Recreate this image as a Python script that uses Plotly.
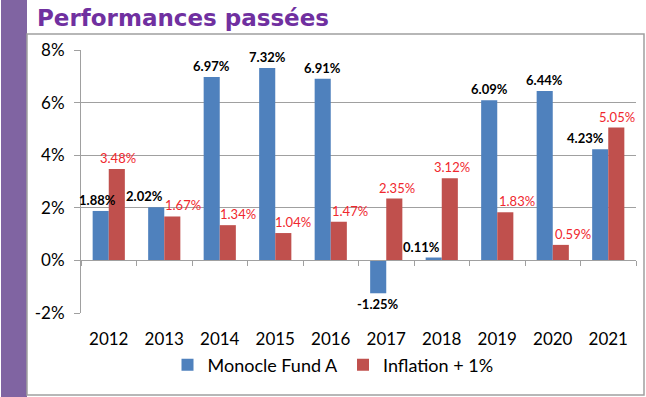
import plotly.graph_objects as go

years = ["2012", "2013", "2014", "2015", "2016", "2017", "2018", "2019", "2020", "2021"]
fund = [1.88, 2.02, 6.97, 7.32, 6.91, -1.25, 0.11, 6.09, 6.44, 4.23]
inflation = [3.48, 1.67, 1.34, 1.04, 1.47, 2.35, 3.12, 1.83, 0.59, 5.05]
y_ticks = [-2, 0, 2, 4, 6, 8]
y_tick_labels = ["-2%", "0%", "2%", "4%", "6%", "8%"]

# label nudges (pixels) used to keep value labels apart, as in the original
fund_nudge = [-3, -12, 0, 0, 0, 0, -12, 0, 0, -15]
infl_nudge = [1, 11, 10, 10, 11, 3, 2, 12, 12, 1]

FONT = "Lato, 'Open Sans', sans-serif"

fig = go.Figure()
fig.add_trace(go.Bar(x=years, y=fund, name="Monocle Fund A",
                     marker=dict(color="#4F81BD", line=dict(width=0))))
fig.add_trace(go.Bar(x=years, y=inflation, name="Inflation + 1%",
                     marker=dict(color="#C0504D", line=dict(width=0))))

L, R, T, B = 81, 10, 50, 84
W, H = 646, 397
pw, ph = W - L - R, H - T - B
def px(x): return (x - L) / pw
def py(y): return (H - B - y) / ph

annotations = [
    dict(text="<b>Performances passées</b>", xref="paper", yref="paper",
         x=px(35), y=py(18), xanchor="left", yanchor="middle", showarrow=False,
         font=dict(size=23, color="#7030A0", family="'DejaVu Sans', Verdana, sans-serif")),
]
for i, (v, n) in enumerate(zip(fund, fund_nudge)):
    annotations.append(dict(
        x=i, y=v, xref="x", yref="y", text=f"<b>{v:.2f}%</b>", showarrow=False,
        xshift=-8 + n, yshift=1 if v >= 0 else -1,
        yanchor="bottom" if v >= 0 else "top", xanchor="center",
        font=dict(family=FONT, size=13, color="#000000")))
for i, (v, n) in enumerate(zip(inflation, infl_nudge)):
    annotations.append(dict(
        x=i, y=v, xref="x", yref="y", text=f"{v:.2f}%", showarrow=False,
        xshift=8 + n, yshift=1, yanchor="bottom", xanchor="center",
        font=dict(family=FONT, size=13, color="#F0282E")))

fig.update_layout(
    width=W, height=H, autosize=False,
    margin=dict(l=L, r=R, t=T, b=B, autoexpand=False),
    paper_bgcolor="white", plot_bgcolor="white",
    barmode="group", bargap=0.42, bargroupgap=0,
    font=dict(family=FONT, color="#000000"),
    showlegend=True,
    legend=dict(orientation="h", x=px(333), xanchor="center", yref="container",
                y=1 - 365 / H, yanchor="middle", itemwidth=30,
                font=dict(size=18, family=FONT), traceorder="normal"),
    xaxis=dict(type="category", range=[-0.5, len(years) - 0.5], anchor="free", position=0.2,
               showline=True, linecolor="#a0a0a0", linewidth=1,
               ticks="outside", tickson="boundaries", ticklen=5, tickcolor="#a0a0a0",
               ticklabelstandoff=63, tickfont=dict(size=17, family=FONT), showgrid=False,
               automargin=False),
    yaxis=dict(range=[-2, 8], tickvals=y_ticks, ticktext=y_tick_labels,
               showgrid=True, gridcolor="#a0a0a0", gridwidth=1,
               showline=True, linecolor="#a0a0a0", linewidth=1,
               ticks="outside", ticklen=6, tickcolor="#a0a0a0", ticklabelstandoff=6,
               tickfont=dict(size=17, family=FONT), zeroline=False, automargin=False),
    shapes=[
        dict(type="rect", xref="paper", yref="paper", x0=px(1), x1=px(27), y0=py(397), y1=py(0),
             fillcolor="#8064A2", line=dict(width=0), layer="below"),
        dict(type="rect", xref="paper", yref="paper", x0=px(27), x1=px(644), y0=py(395), y1=py(34),
             fillcolor="rgba(0,0,0,0)", line=dict(color="#a0a0a0", width=1.5), layer="below"),
    ],
    annotations=annotations,
)

fig.write_html("out.html", config={"displayModeBar": False},
               post_script="document.body.style.margin='0';")
